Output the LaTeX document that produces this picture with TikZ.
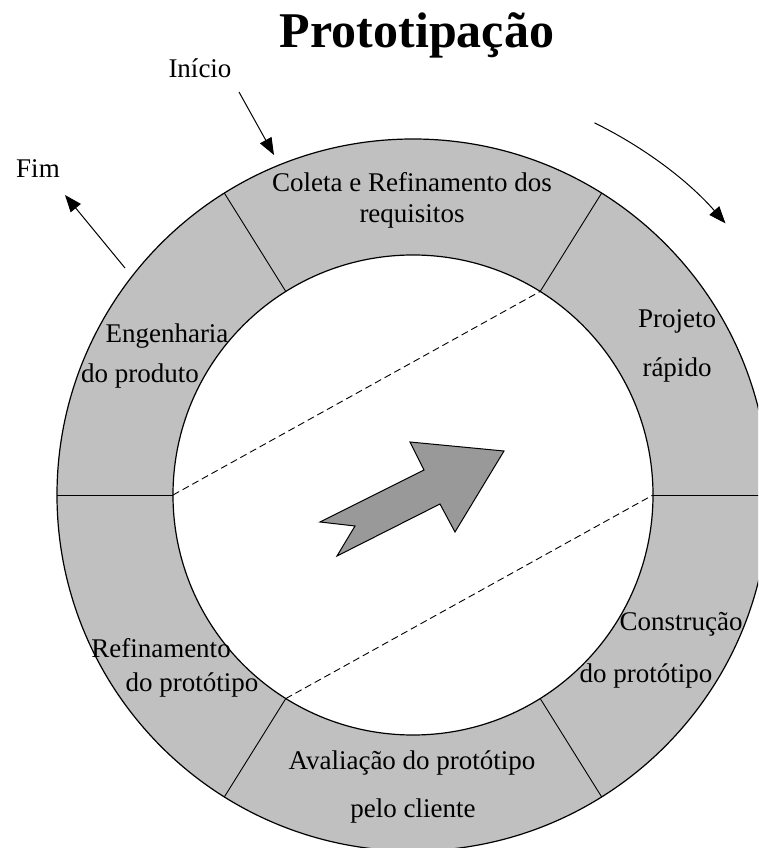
\documentclass[tikz,border=0pt]{standalone}
\usepackage{fontspec}
\setmainfont{Liberation Serif}
\usepackage{tikz}
\usetikzlibrary{arrows.meta}
\definecolor{ringgray}{RGB}{192,192,192}
\definecolor{arrowgray}{RGB}{153,153,153}

\begin{document}
\begin{tikzpicture}[x=1pt,y=1pt,
    lbl/.style={anchor=base,inner sep=0pt,font=\fontsize{27}{32}\selectfont},
    rim/.style={draw=black,line width=1.2pt},
    cut/.style={draw=black,line width=0.9pt},
    guide/.style={draw=black,line width=0.9pt,dash pattern=on 7pt off 4pt},
    pointer/.style={-{Triangle[length=17pt,width=13pt]},line width=1pt}]
  % page: 758 x 848, origin at the centre of the ring
  \useasboundingbox (-413,-353) rectangle (345,495);
  \clip (-413,-353) rectangle (345,495);

  % ring
  \fill[ringgray,rim] (0,0) circle[radius=356];
  \fill[white,rim] (0,0) circle[radius=240];
  \foreach \a in {0,58,122,180,238,302}
    \draw[cut] (\a:240) -- (\a:356);
  \coordinate (in180) at (180:240);
  \coordinate (in58) at (58:240);
  \coordinate (in238) at (238:240);
  \coordinate (in0) at (0:240);
  \draw[guide] (in180) -- (in58);
  \draw[guide] (in238) -- (in0);

  % big arrow in the middle
  \draw[fill=arrowgray,line width=1pt,line join=miter]
    (-93,-27) -- (11,25) -- (-3,53) -- (91,44) -- (42,-37) -- (27,-9)
    -- (-76,-61) -- (-58,-31) -- cycle;

  % title and start / end
  \node[anchor=base,inner sep=0pt,font=\fontsize{50}{60}\selectfont\bfseries] (title) at (4,447) {Prototipação};
  \node[lbl] (ini) at (-213,417) {Início};
  \node[lbl] (fim) at (-375,317) {Fim};
  \coordinate (ini0) at (-174,403);
  \coordinate (ini1) at (-139,340);
  \coordinate (fim0) at (-288,227);
  \coordinate (fim1) at (-348,300);
  \draw[pointer] (ini0) -- (ini1);
  \draw[pointer] (fim0) -- (fim1);

  % direction of the cycle
  \coordinate (turn0) at (64:414);
  \draw[pointer] (turn0) arc[start angle=64,end angle=41,radius=414];

  % phases
  \node[lbl] (col1) at (-1,303) {Coleta e Refinamento dos};
  \node[lbl] (col2) at (-1,272) {requisitos};
  \node[lbl] (pro1) at (264,167) {Projeto};
  \node[lbl] (pro2) at (264,118) {rápido};
  \node[lbl] (con1) at (268,-135) {Construção};
  \node[lbl] (con2) at (233,-187) {do protótipo};
  \node[lbl] (ava1) at (-1,-274) {Avaliação do protótipo};
  \node[lbl] (ava2) at (0,-322) {pelo cliente};
  \node[lbl] (ref1) at (-252,-162) {Refinamento};
  \node[lbl] (ref2) at (-221,-196) {do protótipo};
  \node[lbl] (eng1) at (-246,152) {Engenharia};
  \node[lbl] (eng2) at (-273,112) {do produto};
\end{tikzpicture}
\end{document}
